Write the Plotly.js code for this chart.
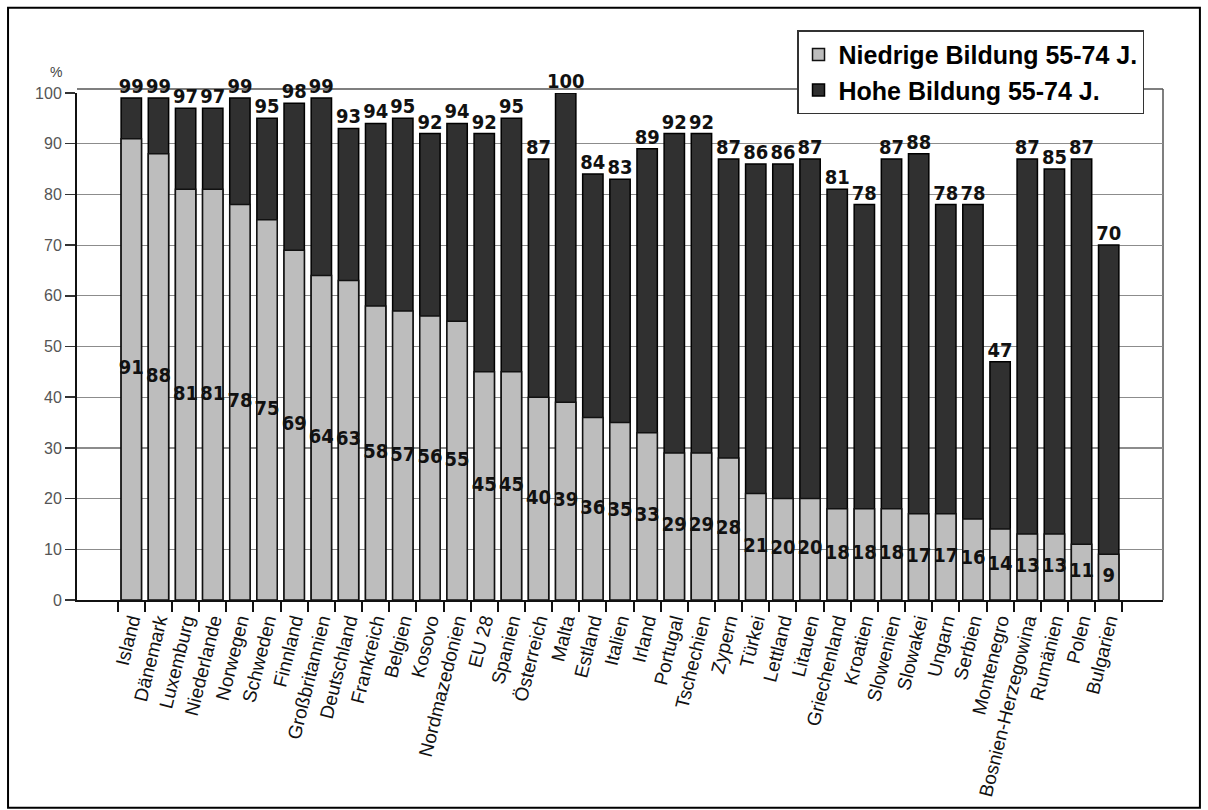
<!DOCTYPE html>
<html>
<head>
<meta charset="utf-8">
<script src="https://cdn.plot.ly/plotly-3.0.1.min.js"></script>
<style>html,body{margin:0;padding:0;background:#fff;}#chart{width:1208px;height:810px;}</style>
</head>
<body>
<div id="chart"></div>
<script>
const countries = ["Island","Dänemark","Luxemburg","Niederlande","Norwegen","Schweden","Finnland","Großbritannien","Deutschland","Frankreich","Belgien","Kosovo","Nordmazedonien","EU 28","Spanien","Österreich","Malta","Estland","Italien","Irland","Portugal","Tschechien","Zypern","Türkei","Lettland","Litauen","Griechenland","Kroatien","Slowenien","Slowakei","Ungarn","Serbien","Montenegro","Bosnien-Herzegowina","Rumänien","Polen","Bulgarien"];
const lowEdu = [91,88,81,81,78,75,69,64,63,58,57,56,55,45,45,40,39,36,35,33,29,29,28,21,20,20,18,18,18,17,17,16,14,13,13,11,9];
const highEdu = [99,99,97,97,99,95,98,99,93,94,95,92,94,92,95,87,100,84,83,89,92,92,87,86,86,87,81,78,87,88,78,78,47,87,85,87,70];
const yTicks = [0,10,20,30,40,50,60,70,80,90,100];

const valFont = {family: "DejaVu Sans Condensed, Liberation Sans", size: 20, color: "#111", weight: "bold"};

const traces = [
  {type: "bar", name: "Hohe Bildung 55-74 J.", x: countries, y: highEdu, width: 0.75,
   marker: {color: "#303030", line: {color: "#000", width: 1.5}}, legendrank: 2, hoverinfo: "x+y"},
  {type: "bar", name: "Niedrige Bildung 55-74 J.", x: countries, y: lowEdu, width: 0.75,
   marker: {color: "#bdbdbd", line: {color: "#111", width: 1.5}}, legendrank: 1, hoverinfo: "x+y"},
  {type: "scatter", mode: "text", x: countries, y: highEdu, text: highEdu.map(String),
   textposition: "top center", textfont: valFont, showlegend: false, hoverinfo: "skip", cliponaxis: false},
  {type: "scatter", mode: "text", x: countries, y: lowEdu.map(v => v / 2), text: lowEdu.map(String),
   textposition: "middle center", textfont: valFont, showlegend: false, hoverinfo: "skip", cliponaxis: false}
];

const layout = {
  width: 1208, height: 810,
  margin: {l: 77, r: 45, t: 93, b: 210},
  paper_bgcolor: "#fff", plot_bgcolor: "#fff",
  barmode: "overlay",
  showlegend: true,
  legend: {x: 0.663, y: 1.124, xanchor: "left", yanchor: "top",
    bgcolor: "#fff", bordercolor: "#333", borderwidth: 1.5,
    font: {family: "Liberation Sans, Arial", size: 25, color: "#000", weight: "bold"},
    tracegroupgap: 0, itemwidth: 30},
  xaxis: {type: "category", tickangle: -76, tickson: "boundaries",
    ticks: "outside", ticklen: 10, tickwidth: 2, tickcolor: "#111",
    showline: true, linecolor: "#111", linewidth: 2, showgrid: false,
    tickfont: {family: "Liberation Sans, Arial", size: 19, color: "#111"}, automargin: false},
  yaxis: {range: [0, 100], tickvals: yTicks, ticktext: yTicks.map(String),
    ticks: "outside", ticklen: 10, tickwidth: 1.5, tickcolor: "#333",
    showline: true, linecolor: "#111", linewidth: 2,
    showgrid: true, gridcolor: "#8c8c8c", gridwidth: 1.2, zeroline: false,
    tickfont: {family: "Liberation Sans, Arial", size: 16, color: "#555"}, automargin: false},
  annotations: [
    {text: "%", xref: "paper", yref: "paper", x: -0.027, y: 1.061, showarrow: false,
     font: {family: "Liberation Sans, Arial", size: 14, color: "#444"}}
  ],
  shapes: [
    {type: "rect", xref: "paper", yref: "paper", x0: -0.0635, x1: 1.034, y0: -0.41, y1: 1.168,
     line: {color: "#000", width: 2}, fillcolor: "rgba(0,0,0,0)", layer: "below"},
    {type: "line", xref: "paper", yref: "paper", x0: 0, x1: 1, y0: 1.008, y1: 1.008,
     line: {color: "#555", width: 1.5}, layer: "below"},
    {type: "line", xref: "paper", yref: "paper", x0: 1, x1: 1, y0: 0, y1: 1.008,
     line: {color: "#555", width: 1.5}, layer: "below"}
  ]
};

Plotly.newPlot("chart", traces, layout, {displayModeBar: false, staticPlot: true});
</script>
</body>
</html>
